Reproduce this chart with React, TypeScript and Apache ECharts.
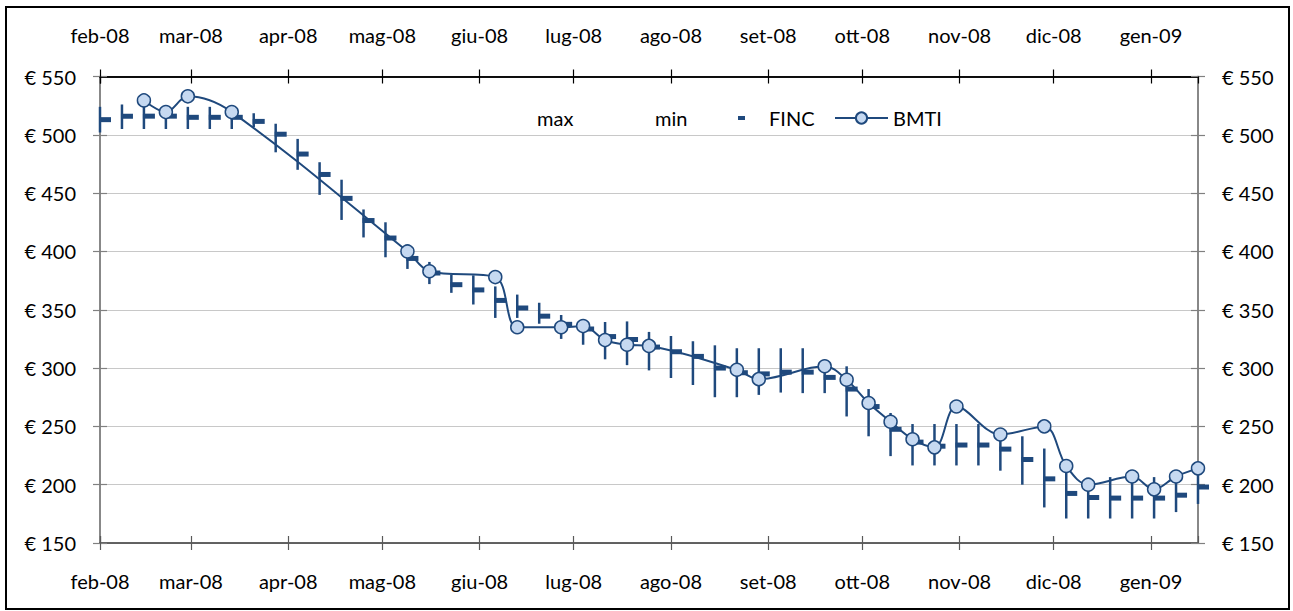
import { useEffect, useRef } from 'react';
import * as echarts from 'echarts';

// Weekly dates (Fridays)
const weeks = [
  '2008-02-01', '2008-02-08', '2008-02-15', '2008-02-22', '2008-02-29',
  '2008-03-07', '2008-03-14', '2008-03-21', '2008-03-28',
  '2008-04-04', '2008-04-11', '2008-04-18', '2008-04-25',
  '2008-05-02', '2008-05-09', '2008-05-16', '2008-05-23', '2008-05-30',
  '2008-06-06', '2008-06-13', '2008-06-20', '2008-06-27',
  '2008-07-04', '2008-07-11', '2008-07-18', '2008-07-25',
  '2008-08-01', '2008-08-08', '2008-08-15', '2008-08-22', '2008-08-29',
  '2008-09-05', '2008-09-12', '2008-09-19', '2008-09-26',
  '2008-10-03', '2008-10-10', '2008-10-17', '2008-10-24', '2008-10-31',
  '2008-11-07', '2008-11-14', '2008-11-21', '2008-11-28',
  '2008-12-05', '2008-12-12', '2008-12-19', '2008-12-26',
  '2009-01-02', '2009-01-09', '2009-01-16',
];

const finHigh = [
  524, 526, 525, 522, 524, 524, 518, 518.5, 509.5,
  496.5, 476.5, 461.5, 436,
  425, 404, 391, 380, 379.5,
  370, 363, 356, 345.5,
  342, 339.5, 340, 331,
  327.5, 323, 319.5, 317, 317,
  317, 317, 301, 301.5,
  282, 261.5, 252, 252, 252,
  252, 243, 241.5, 231,
  216, 200, 206.5, 207,
  206.5, 207, 213,
];

const finLow = [
  502, 505, 505, 505, 505, 505, 505, 506.5, 485,
  470, 448.5, 427, 412,
  395, 385, 372, 364.5, 354.5,
  343, 343, 338, 325,
  320, 307.5, 302.5, 298,
  291.5, 285.5, 275, 275, 277,
  279, 278.5, 278.5, 258.5,
  241.5, 224.5, 216.5, 216.5, 216.5,
  216.5, 212, 200, 180.5,
  171, 171, 171, 171,
  171, 176.5, 183.5,
];

const finClose = [
  513, 516, 516, 516, 515, 515, 515, 511.5, 500.5,
  483.5, 466, 445.5, 426.5,
  411.5, 394, 381.5, 371.5, 367,
  358, 351.5, 344.5, 337.5,
  333.5, 327, 324.5, 318,
  314, 310, 300, 296, 295,
  296.5, 296.5, 292, 282,
  267, 247.5, 236.5, 233, 234,
  234, 230.5, 221.5, 205,
  192.5, 189, 188.5, 188.5,
  188.5, 191, 198,
];

const bmti: (number | null)[] = [
  null, null, 529.5, 519.5, 533, null, 519.5, null, null,
  null, null, null, null,
  null, 400, 383, null, null,
  378, 335, null, 335,
  336, 324, 320, 319,
  null, null, null, 298.5, 290.5,
  null, null, 301.5, 290,
  270, 254, 239, 232, 267,
  null, 243, null, 250,
  216, 200, null, 207,
  196, 207, 214,
];

const monthNames = ['gen', 'feb', 'mar', 'apr', 'mag', 'giu', 'lug', 'ago', 'set', 'ott', 'nov', 'dic'];
const yMin = 150;
const yMax = 550;
const yStep = 50;

const DARK = '#1F497D';
const FILL = '#C6D9F1';
const FONT = 'Lato';
const DAY = 86400000;

export default function App() {
  const ref = useRef<HTMLDivElement>(null);

  useEffect(() => {
    if (!ref.current) return;
    const chart = echarts.init(ref.current, null, { renderer: 'svg' });

    const monthLabel = (v: number) => {
      const d = new Date(v);
      return monthNames[d.getMonth()] + '-' + String(d.getFullYear()).slice(2);
    };

    const xBase = (position: 'top' | 'bottom', inside: boolean, labels: boolean, lineColor: string, margin: number) => ({
      type: 'time',
      position,
      min: weeks[0],
      max: weeks[weeks.length - 1],
      splitNumber: 12,
      minInterval: 28 * DAY,
      maxInterval: 31 * DAY,
      axisLine: { show: true, lineStyle: { color: lineColor, width: 1.5 } },
      axisTick: { show: true, inside, length: 7, lineStyle: { color: lineColor, width: 1.2 } },
      axisLabel: {
        show: labels,
        formatter: monthLabel,
        color: '#000',
        fontFamily: FONT,
        fontSize: 20,
        margin,
        hideOverlap: false,
      },
      splitLine: { show: false },
      minorTick: { show: false },
    });

    const yBase = (position: 'left' | 'right', inside: boolean, labels: boolean, split: boolean) => ({
      type: 'value',
      position,
      min: yMin,
      max: yMax,
      interval: yStep,
      axisLine: { show: true, lineStyle: { color: '#808080', width: 1.5 } },
      axisTick: { show: true, inside, length: 7, lineStyle: { color: '#808080', width: 1.2 } },
      axisLabel: {
        show: labels,
        formatter: (v: number) => '€ ' + v,
        color: '#000',
        fontFamily: FONT,
        fontSize: 20,
        margin: 24,
      },
      splitLine: { show: split, lineStyle: { color: '#c8c8c8', width: 1 } },
    });

    const finData = weeks.map((d, i) => [d, finHigh[i], finLow[i], finClose[i]]);
    const bmtiData = weeks
      .map((d, i) => [d, bmti[i]])
      .filter((p) => p[1] !== null);

    const legendText = { color: '#000', fontFamily: FONT, fontSize: 20, lineHeight: 22 };
    const LEG_TOP = 107;

    chart.setOption({
      animation: false,
      backgroundColor: '#ffffff',
      grid: {
        left: 100,
        right: 95,
        top: 76.5,
        bottom: 68,
        containLabel: false,
        outerBoundsMode: 'none',
      },
      graphic: [
        {
          type: 'rect',
          shape: { x: 6, y: 7, width: 1283, height: 602 },
          style: { fill: 'none', stroke: '#000', lineWidth: 2 },
          silent: true,
        },
      ],
      legend: [
        {
          data: [{ name: 'max', icon: 'rect', itemStyle: { color: 'rgba(0,0,0,0)', borderWidth: 0 } }],
          left: 507, top: LEG_TOP, padding: 0, itemWidth: 25, itemHeight: 4, textStyle: legendText, selectedMode: false,
        },
        {
          data: [{ name: 'min', icon: 'rect', itemStyle: { color: 'rgba(0,0,0,0)', borderWidth: 0 } }],
          left: 625, top: LEG_TOP, padding: 0, itemWidth: 25, itemHeight: 4, textStyle: legendText, selectedMode: false,
        },
        {
          data: [{ name: 'FINC', icon: 'rect', itemStyle: { color: DARK } }],
          left: 738, top: LEG_TOP, padding: 0, itemWidth: 7, itemHeight: 4,
          textStyle: { ...legendText, padding: [0, 0, 0, 19] }, selectedMode: false,
        },
        {
          data: ['BMTI'],
          left: 834, top: LEG_TOP, padding: 0, itemWidth: 53, itemHeight: 14, textStyle: legendText, selectedMode: false,
        },
      ],
      xAxis: [
        xBase('bottom', false, true, '#595959', 28),
        xBase('bottom', true, false, '#595959', 28),
        xBase('top', false, true, '#000000', 32),
        xBase('top', true, false, '#000000', 32),
      ],
      yAxis: [
        yBase('left', false, true, true),
        yBase('left', true, false, false),
        yBase('right', false, true, false),
        yBase('right', true, false, false),
      ],
      series: [
        {
          name: 'max',
          type: 'line',
          data: weeks.map((d, i) => [d, finHigh[i]]),
          showSymbol: false,
          symbol: 'none',
          lineStyle: { opacity: 0 },
          itemStyle: { opacity: 0 },
          silent: true,
        },
        {
          name: 'min',
          type: 'line',
          data: weeks.map((d, i) => [d, finLow[i]]),
          showSymbol: false,
          symbol: 'none',
          lineStyle: { opacity: 0 },
          itemStyle: { opacity: 0 },
          silent: true,
        },
        {
          name: 'FINC',
          type: 'custom',
          clip: false,
          itemStyle: { color: DARK },
          encode: { x: 0, y: [1, 2, 3] },
          data: finData,
          renderItem: (_params: any, api: any) => {
            const t = api.value(0);
            const hi = api.coord([t, api.value(1)]);
            const lo = api.coord([t, api.value(2)]);
            const cl = api.coord([t, api.value(3)]);
            return {
              type: 'group',
              children: [
                {
                  type: 'line',
                  shape: { x1: hi[0], y1: hi[1], x2: lo[0], y2: lo[1] },
                  style: { stroke: DARK, lineWidth: 2.5 },
                },
                {
                  type: 'rect',
                  shape: { x: cl[0] - 1, y: cl[1] - 2.5, width: 12, height: 5 },
                  style: { fill: DARK },
                },
              ],
            };
          },
          z: 2,
        },
        {
          name: 'BMTI',
          type: 'line',
          data: bmtiData,
          smooth: 0.35,
          symbol: 'circle',
          symbolSize: 13,
          showAllSymbol: true,
          lineStyle: { color: DARK, width: 2 },
          itemStyle: { color: FILL, borderColor: DARK, borderWidth: 1.5 },
          z: 3,
        },
      ],
    });

    return () => chart.dispose();
  }, []);

  return (
    <div
      ref={ref}
      style={{ position: 'absolute', left: 0, top: 0, width: 1293, height: 611, background: '#fff' }}
    />
  );
}
